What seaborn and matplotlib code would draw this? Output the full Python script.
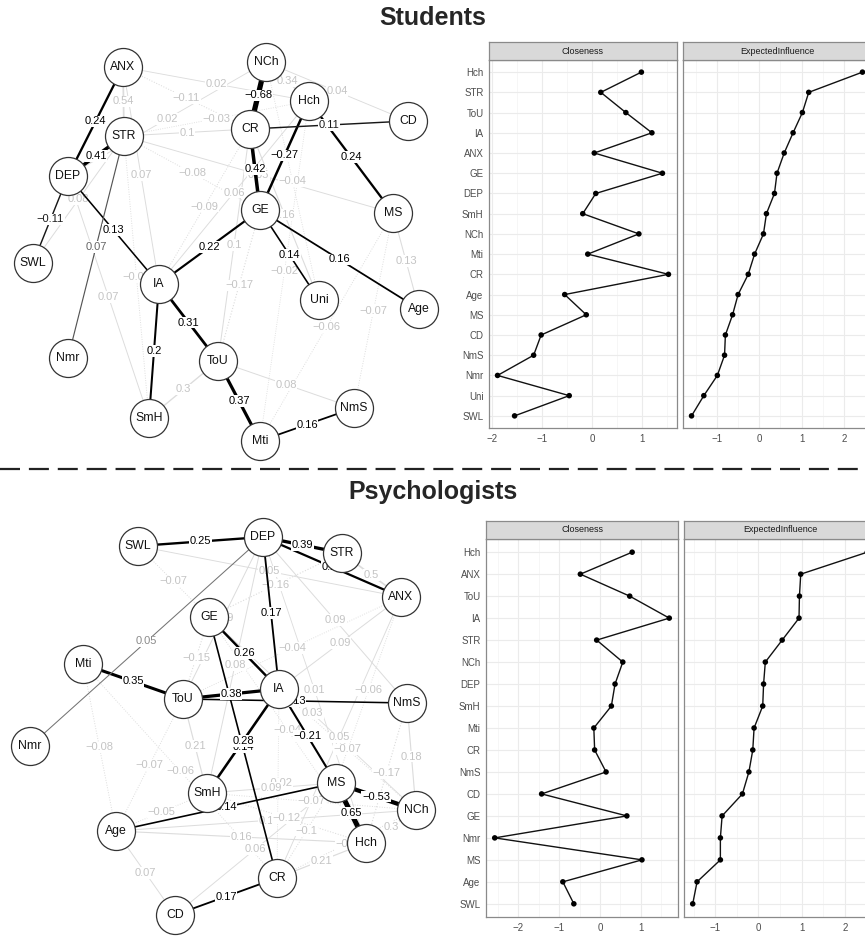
import matplotlib

matplotlib.use("Agg")
import numpy
import pandas
import seaborn as sea
from matplotlib import pyplot
from matplotlib.lines import Line2D
from matplotlib.ticker import MultipleLocator

W, H = 865, 936

# ---------------- Students network ----------------
stu_layout = {
    "ANX": (123, 67), "NCh": (266, 62), "Hch": (309, 101), "CD": (408, 121),
    "CR": (250, 129), "STR": (124, 136), "DEP": (68, 176), "GE": (260, 210),
    "MS": (393, 213), "SWL": (33, 263), "IA": (159, 284), "Uni": (319, 300),
    "Age": (419, 309), "Nmr": (68, 358), "ToU": (218, 361), "SmH": (149, 418),
    "NmS": (354, 408), "Mti": (260, 441),
}
stu_from = ["ANX", "STR", "DEP", "DEP", "STR", "NCh", "CR", "Hch", "CR", "Hch",
            "GE", "GE", "GE", "IA", "IA", "ToU", "Mti",
            "ANX", "ANX", "ANX", "DEP", "STR", "STR", "ANX", "STR", "STR", "CR",
            "Hch", "NCh", "CR", "SWL", "NCh", "NCh", "CR", "GE", "Hch", "MS",
            "MS", "MS", "ToU", "SmH", "DEP", "STR"]
stu_to = ["DEP", "DEP", "SWL", "IA", "Nmr", "CR", "GE", "GE", "CD", "MS",
          "IA", "Uni", "Age", "ToU", "SmH", "Mti", "NmS",
          "STR", "CR", "Hch", "NCh", "CR", "Hch", "IA", "GE", "MS", "IA",
          "IA", "Uni", "Uni", "STR", "CD", "Hch", "ToU", "ToU", "Mti", "Age",
          "NmS", "Mti", "NmS", "ToU", "SmH", "SmH"]
stu_weight = [0.24, 0.41, -0.11, 0.13, 0.07, -0.68, 0.42, -0.27, 0.11, 0.24,
              0.22, 0.14, 0.16, 0.31, 0.2, 0.37, 0.16,
              0.54, -0.11, 0.02, 0.02, 0.1, -0.03, 0.07, -0.08, 0.05, -0.09,
              0.06, -0.04, 0.16, 0.08, 0.04, 0.34, 0.1, -0.17, -0.02, 0.13,
              -0.07, -0.06, 0.08, 0.3, 0.07, -0.06]
stu_sig = [1] * 17 + [0] * 26

stu_names = ["Hch", "STR", "ToU", "IA", "ANX", "GE", "DEP", "SmH", "NCh",
             "Mti", "CR", "Age", "MS", "CD", "NmS", "Nmr", "Uni", "SWL"]
stu_closeness = [0.98, 0.17, 0.67, 1.19, 0.04, 1.40, 0.07, -0.19, 0.93,
                 -0.09, 1.52, -0.55, -0.12, -1.02, -1.17, -1.89, -0.46, -1.55]
stu_influence = [2.44, 1.17, 1.02, 0.80, 0.59, 0.42, 0.36, 0.17, 0.10,
                 -0.11, -0.26, -0.50, -0.63, -0.80, -0.82, -0.99, -1.31, -1.60]

# ---------------- Psychologists network ----------------
psy_layout = {
    "SWL": (138, 546), "DEP": (263, 537), "STR": (342, 553), "ANX": (401, 597),
    "GE": (209, 617), "Mti": (83, 664), "IA": (279, 689), "ToU": (183, 699),
    "NmS": (407, 703), "Nmr": (30, 746), "MS": (336, 783), "SmH": (207, 793),
    "NCh": (416, 810), "Age": (116, 831), "Hch": (366, 843), "CR": (277, 878),
    "CD": (175, 915),
}
psy_from = ["SWL", "DEP", "DEP", "DEP", "GE", "Mti", "ToU", "ToU", "GE", "IA",
            "IA", "MS", "MS", "Age", "CR", "Nmr",
            "SWL", "STR", "SWL", "DEP", "DEP", "ANX", "ANX", "DEP", "GE", "DEP",
            "ANX", "GE", "ANX", "ToU", "GE", "ToU", "Mti", "IA", "SmH", "SmH",
            "Age", "SmH", "IA", "NmS", "NmS", "Age", "Mti", "Age", "CR", "CR",
            "CR", "CD", "Age", "STR", "NCh"]
psy_to = ["DEP", "STR", "ANX", "IA", "IA", "ToU", "IA", "NmS", "CR", "SmH",
          "MS", "NCh", "Hch", "MS", "CD", "DEP",
          "GE", "GE", "ANX", "ToU", "NmS", "IA", "ToU", "SmH", "ToU", "Hch",
          "MS", "NCh", "CR", "SmH", "Hch", "Age", "CR", "CR", "MS", "NCh",
          "NCh", "Hch", "NCh", "Hch", "NCh", "SmH", "Age", "Hch", "MS", "NCh",
          "Hch", "MS", "CD", "ANX", "Hch"]
psy_weight = [0.25, 0.39, 0.23, 0.17, 0.26, 0.35, 0.38, 0.13, 0.14, 0.28,
              -0.21, -0.53, 0.65, 0.14, 0.17, 0.05,
              -0.07, -0.16, 0.05, 0.09, 0.09, 0.09, -0.04, 0.08, -0.15, 0.01,
              -0.06, 0.03, 0.05, 0.21, -0.04, -0.07, -0.06, -0.02, 0.09, -0.07,
              0.1, -0.12, -0.07, -0.17, 0.18, -0.05, -0.08, 0.16, -0.1, -0.1,
              0.21, 0.06, 0.07, 0.5, 0.3]
psy_sig = [1] * 16 + [0] * 35

psy_names = ["Hch", "ANX", "ToU", "IA", "STR", "NCh", "DEP", "SmH", "Mti",
             "CR", "NmS", "CD", "GE", "Nmr", "MS", "Age", "SWL"]
psy_closeness = [0.79, -0.48, 0.73, 1.70, -0.08, 0.56, 0.37, 0.28, -0.15,
                 -0.13, 0.15, -1.43, 0.66, -2.58, 1.03, -0.91, -0.64]
psy_influence = [2.52, 0.98, 0.95, 0.94, 0.55, 0.16, 0.12, 0.10, -0.10,
                 -0.13, -0.22, -0.37, -0.84, -0.88, -0.88, -1.42, -1.52]


def px_rect(x0, y0, x1, y1):
    return [x0 / W, 1 - y1 / H, (x1 - x0) / W, (y1 - y0) / H]


def fmt(w):
    return f"{w:g}".replace("-", "\u2212")


def draw_network(ax, layout, e_from, e_to, e_weight, e_sig):
    edges = pandas.DataFrame(
        {"a": e_from, "b": e_to, "weight": e_weight, "sig": e_sig}
    )
    for sig in (0, 1):
        for row in edges[edges.sig == sig].itertuples():
            x0, y0 = layout[row.a]
            x1, y1 = layout[row.b]
            w = abs(row.weight)
            if sig:
                grey = float(numpy.clip(0.75 - 6 * w, 0, 1))
                color = str(grey)
                lw = 0.5 + 4.8 * w
                ls = "-"
                tcolor = str(min(grey * 1.2, 0.7))
            else:
                color = "#dcdcdc"
                lw = 0.6 + 1.2 * w
                ls = (0, (1, 1.6)) if row.weight < 0 else "-"
                tcolor = "#c4c4c4"
            ax.plot([x0, x1], [y0, y1], color=color, lw=lw, ls=ls,
                    solid_capstyle="butt", zorder=1 + 2 * sig)
            ax.text((x0 + x1) / 2, (y0 + y1) / 2, fmt(row.weight),
                    ha="center", va="center", fontsize=8, color=tcolor,
                    zorder=2 + 2 * sig,
                    bbox=dict(boxstyle="square,pad=0.05", fc="white", ec="none"))
    nodes = pandas.DataFrame(
        [(k, v[0], v[1]) for k, v in layout.items()], columns=["node", "x", "y"]
    )
    sea.scatterplot(data=nodes, x="x", y="y", s=749, color="white",
                    edgecolor="#333333", linewidth=0.9, zorder=6, ax=ax,
                    legend=False, clip_on=False)
    for row in nodes.itertuples():
        ax.text(row.x, row.y, row.node, ha="center", va="center",
                fontsize=8.8, color="#111111", zorder=7)


def draw_panel(ax, strip, names, values, title, show_labels):
    df = pandas.DataFrame(
        {"node": names, "value": values, "pos": numpy.arange(len(names))}
    )
    sea.lineplot(data=df, x="value", y="pos", sort=False, estimator=None,
                 color="#111111", lw=1.0, ax=ax, zorder=3)
    sea.scatterplot(data=df, x="value", y="pos", color="black", s=16,
                    edgecolor="none", ax=ax, zorder=4, legend=False)
    lo, hi = min(values), max(values)
    pad = 0.05 * (hi - lo)
    ax.set_xlim(lo - pad, hi + pad)
    ax.set_ylim(len(names) - 1 + 0.6, -0.6)
    ax.set_yticks(df["pos"])
    ax.set_yticklabels(names if show_labels else [])
    ax.xaxis.set_major_locator(MultipleLocator(1))
    ax.xaxis.set_minor_locator(MultipleLocator(0.5))
    ax.grid(which="major", color="#EBEBEB", lw=0.8)
    ax.grid(which="minor", axis="x", color="#F3F3F3", lw=0.5)
    ax.set_axisbelow(True)
    ax.set_xlabel("")
    ax.set_ylabel("")
    for spine in ax.spines.values():
        spine.set_color("#8a8a8a")
        spine.set_linewidth(0.9)
    ax.tick_params(axis="both", which="major", length=2.5, width=0.6,
                   color="#444444", labelcolor="#4D4D4D", labelsize=7, pad=1.5)
    ax.tick_params(axis="x", which="minor", length=0)
    if not show_labels:
        ax.tick_params(axis="y", length=0)
    ax.xaxis.set_major_formatter(
        matplotlib.ticker.FuncFormatter(lambda v, p: fmt(int(round(v))))
    )

    strip.set_facecolor("#D9D9D9")
    strip.set_xticks([])
    strip.set_yticks([])
    for spine in strip.spines.values():
        spine.set_color("#8a8a8a")
        spine.set_linewidth(0.9)
    strip.text(0.5, 0.5, title, ha="center", va="center", fontsize=6.5,
               color="#1A1A1A", transform=strip.transAxes)


sea.set_style("white")
pyplot.rcParams["font.family"] = ["Liberation Sans", "DejaVu Sans"]

figure = pyplot.figure(figsize=(W / 100, H / 100), dpi=100)

# networks
net_top = figure.add_axes(px_rect(0, 20, 460, 460))
draw_network(net_top, stu_layout, stu_from, stu_to, stu_weight, stu_sig)
net_top.set_xlim(0, 460)
net_top.set_ylim(460, 20)
net_top.set_axis_off()

net_bot = figure.add_axes(px_rect(0, 500, 460, 936))
draw_network(net_bot, psy_layout, psy_from, psy_to, psy_weight, psy_sig)
net_bot.set_xlim(0, 460)
net_bot.set_ylim(936, 500)
net_bot.set_axis_off()

# centrality panels
panels = [
    (stu_names, stu_closeness, "Closeness", True, (489, 42, 677, 60, 428)),
    (stu_names, stu_influence, "ExpectedInfluence", False, (683, 42, 871, 60, 428)),
    (psy_names, psy_closeness, "Closeness", True, (486, 521, 678, 539, 917)),
    (psy_names, psy_influence, "ExpectedInfluence", False, (684, 521, 876, 539, 917)),
]
for names, values, title, show, (x0, s0, x1, p0, p1) in panels:
    axis = figure.add_axes(px_rect(x0, p0, x1, p1))
    strip = figure.add_axes(px_rect(x0, s0, x1, p0))
    draw_panel(axis, strip, names, values, title, show)

# titles and separator
figure.text(433 / W, 1 - 18 / H, "Students", ha="center", va="center",
            fontsize=18, fontweight="bold")
figure.text(433 / W, 1 - 492 / H, "Psychologists", ha="center", va="center",
            fontsize=18, fontweight="bold")
figure.add_artist(Line2D([0, 1], [1 - 469 / H] * 2, transform=figure.transFigure,
                         color="#222222", lw=1.6, dashes=(9, 4)))

figure.savefig("out.png", dpi=100)
